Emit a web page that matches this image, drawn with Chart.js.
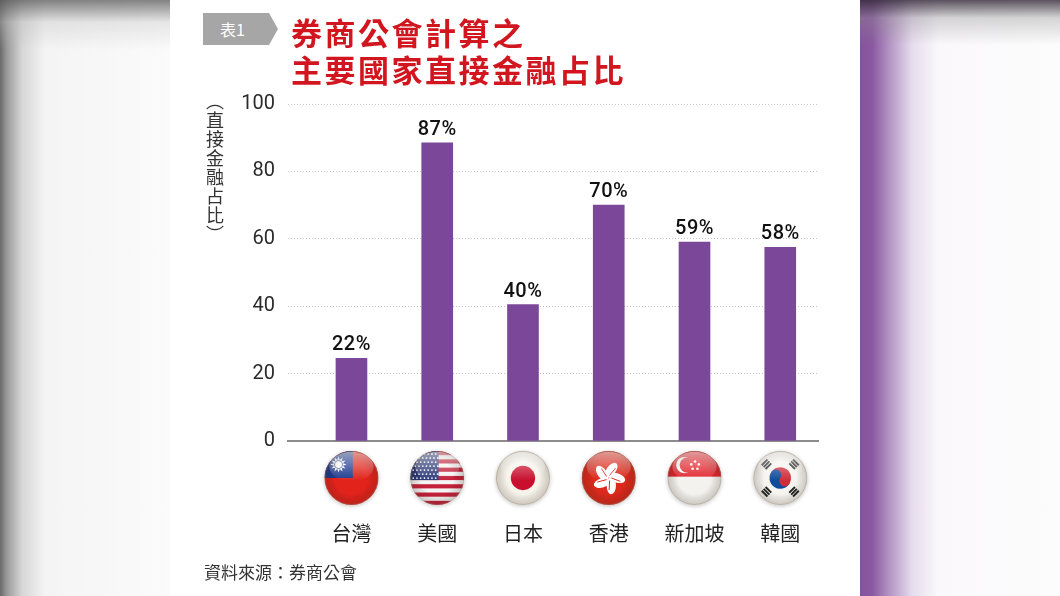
<!DOCTYPE html>
<html>
<head>
<meta charset="utf-8">
<script src="https://cdn.jsdelivr.net/npm/chart.js@4.4.0/dist/chart.umd.min.js"></script>
<style>
html, body { margin: 0; padding: 0; width: 1060px; height: 596px; overflow: hidden; background: #fff; }
#leftSide { position: absolute; left: 0; top: 0; width: 170px; height: 596px;
  background: linear-gradient(to bottom, rgba(90,90,90,.75) 0, rgba(190,190,190,.35) 22px, rgba(255,255,255,0) 50px),
              linear-gradient(to right, #6a6a6a 0, #9a9a9a 7px, #d6d6d6 22px, #f4f4f4 45px, #fbfbfb 170px); }
#rightSide { position: absolute; left: 860px; top: 0; width: 200px; height: 596px;
  background: linear-gradient(to bottom, rgba(50,40,55,.8) 0, rgba(140,140,140,.35) 18px, rgba(255,255,255,0) 45px),
              linear-gradient(to right, #86549c 0, #8a58a0 12px, #b496c4 30px, #e6dcee 52px, #faf8fb 78px, #fcfcfc 200px); }
#chart { position: absolute; left: 0; top: 0; }
.tag { position: absolute; left: 203px; top: 13px; width: 75px; height: 32px; background: #a6a6a6;
  clip-path: polygon(0 0, 66px 0, 75px 16px, 66px 32px, 0 32px);
  color: #fff; font: 16px "Noto Sans CJK TC", sans-serif; line-height: 32px; text-indent: 17px; }
.title { position: absolute; left: 291px; top: 13px; color: #d2161f; font: 700 31px "Noto Sans CJK TC", sans-serif;
  line-height: 37px; letter-spacing: 2.5px; }
.ytitle { position: absolute; left: 205px; top: 92px; writing-mode: vertical-rl; text-orientation: upright; color: #333;
  font: 18px "Noto Sans CJK TC", sans-serif; line-height: 20px; letter-spacing: 1px; }
.source { position: absolute; left: 204px; top: 560px; color: #333; font: 17px "Noto Sans CJK TC", sans-serif; line-height: 24px; }
</style>
</head>
<body>
<div id="leftSide"></div>
<div id="rightSide"></div>
<canvas id="chart" width="1060" height="596"></canvas>
<div class="tag">表1</div>
<div class="title">券商公會計算之<br>主要國家直接金融占比</div>
<div class="ytitle">︵直接金融占比︶</div>
<div class="source">資料來源：券商公會</div>

<script>
var categories = ["台灣", "美國", "日本", "香港", "新加坡", "韓國"];
var flagCodes = ["TW", "US", "JP", "HK", "SG", "KR"];
var barHeights = [24.5, 88.5, 40.5, 70, 59, 57.5];
var valueLabels = ["22%", "87%", "40%", "70%", "59%", "58%"];
var yTicks = [0, 20, 40, 60, 80, 100];

var barColor = "#7b4899";

function circlePath(ctx, x, y, r) {
    ctx.beginPath();
    ctx.arc(x, y, r, 0, Math.PI * 2);
}

function starPath(ctx, x, y, rOut, rIn, n, rot) {
    ctx.beginPath();
    for (var i = 0; i < n * 2; i++) {
        var rr = i % 2 === 0 ? rOut : rIn;
        var a = rot + i * Math.PI / n;
        var px = x + Math.cos(a) * rr, py = y + Math.sin(a) * rr;
        if (i === 0) ctx.moveTo(px, py); else ctx.lineTo(px, py);
    }
    ctx.closePath();
}

function drawFlag(ctx, code, cx, cy, r) {
    ctx.save();
    // soft shadow
    ctx.shadowColor = "rgba(0,0,0,0.25)";
    ctx.shadowBlur = 4;
    ctx.shadowOffsetY = 1;
    circlePath(ctx, cx, cy, r);
    ctx.fillStyle = "#eee";
    ctx.fill();
    ctx.restore();

    ctx.save();
    circlePath(ctx, cx, cy, r);
    ctx.clip();

    if (code === "TW") {
        ctx.fillStyle = "#e2231c";
        ctx.fillRect(cx - r, cy - r, 2 * r, 2 * r);
        ctx.fillStyle = "#1e3b8e";
        ctx.fillRect(cx - r, cy - r, r * 1.05, r * 1.0);
        var sx = cx - r * 0.48, sy = cy - r * 0.5;
        starPath(ctx, sx, sy, r * 0.3, r * 0.17, 12, -Math.PI / 2);
        ctx.fillStyle = "#fff";
        ctx.fill();
        circlePath(ctx, sx, sy, r * 0.16);
        ctx.fillStyle = "#1e3b8e";
        ctx.fill();
        circlePath(ctx, sx, sy, r * 0.13);
        ctx.fillStyle = "#fff";
        ctx.fill();
    } else if (code === "US") {
        ctx.fillStyle = "#f4f4f4";
        ctx.fillRect(cx - r, cy - r, 2 * r, 2 * r);
        var sh = 2 * r / 13;
        ctx.fillStyle = "#c4213a";
        for (var i = 0; i < 13; i += 2) {
            ctx.fillRect(cx - r, cy - r + i * sh, 2 * r, sh);
        }
        ctx.fillStyle = "#2c3b78";
        ctx.fillRect(cx - r, cy - r, r * 1.05, sh * 7);
        ctx.fillStyle = "#fff";
        for (var row = 0; row < 7; row++) {
            for (var col = 0; col < 7; col++) {
                circlePath(ctx, cx - r + 3 + col * (r * 1.05 - 4) / 6.5 + (row % 2) * 2, cy - r + 3 + row * (sh * 7 - 5) / 6, 0.9);
                ctx.fill();
            }
        }
    } else if (code === "JP") {
        ctx.fillStyle = "#f6f3ea";
        ctx.fillRect(cx - r, cy - r, 2 * r, 2 * r);
        circlePath(ctx, cx, cy, r * 0.45);
        ctx.fillStyle = "#c8102e";
        ctx.fill();
    } else if (code === "HK") {
        ctx.fillStyle = "#db2a1c";
        ctx.fillRect(cx - r, cy - r, 2 * r, 2 * r);
        ctx.fillStyle = "#fff";
        for (var k = 0; k < 5; k++) {
            var a = -Math.PI / 2 + k * 2 * Math.PI / 5 + 0.3;
            ctx.save();
            ctx.translate(cx + Math.cos(a) * r * 0.3, cy + Math.sin(a) * r * 0.3);
            ctx.rotate(a + 0.35);
            ctx.beginPath();
            ctx.ellipse(0, 0, r * 0.32, r * 0.17, 0, 0, Math.PI * 2);
            ctx.fill();
            ctx.restore();
        }
        ctx.strokeStyle = "#db2a1c";
        ctx.lineWidth = 1;
        for (var k2 = 0; k2 < 5; k2++) {
            var a2 = -Math.PI / 2 + k2 * 2 * Math.PI / 5 + 0.3;
            ctx.beginPath();
            ctx.moveTo(cx + Math.cos(a2) * r * 0.1, cy + Math.sin(a2) * r * 0.1);
            ctx.lineTo(cx + Math.cos(a2 + 0.3) * r * 0.45, cy + Math.sin(a2 + 0.3) * r * 0.45);
            ctx.stroke();
        }
    } else if (code === "SG") {
        ctx.fillStyle = "#f4f2ee";
        ctx.fillRect(cx - r, cy - r, 2 * r, 2 * r);
        ctx.fillStyle = "#e0262d";
        ctx.fillRect(cx - r, cy - r, 2 * r, r * 0.95);
        circlePath(ctx, cx - r * 0.38, cy - r * 0.48, r * 0.3);
        ctx.fillStyle = "#fff";
        ctx.fill();
        circlePath(ctx, cx - r * 0.27, cy - r * 0.48, r * 0.28);
        ctx.fillStyle = "#e0262d";
        ctx.fill();
        ctx.fillStyle = "#fff";
        var pts = [[0.0, -0.68], [0.14, -0.56], [0.09, -0.38], [-0.09, -0.38], [-0.14, -0.56]];
        for (var p = 0; p < pts.length; p++) {
            circlePath(ctx, cx + r * 0.02 + pts[p][0] * r, cy + pts[p][1] * r * 0.9, 1.3);
            ctx.fill();
        }
    } else if (code === "KR") {
        ctx.fillStyle = "#f6f4ef";
        ctx.fillRect(cx - r, cy - r, 2 * r, 2 * r);
        var R = r * 0.4;
        ctx.save();
        ctx.translate(cx, cy);
        ctx.rotate(0.59);
        ctx.beginPath();
        ctx.arc(0, 0, R, Math.PI, 0);
        ctx.fillStyle = "#cd2e3a";
        ctx.fill();
        ctx.beginPath();
        ctx.arc(0, 0, R, 0, Math.PI);
        ctx.fillStyle = "#0f4c9c";
        ctx.fill();
        circlePath(ctx, -R / 2, 0, R / 2);
        ctx.fillStyle = "#0f4c9c";
        ctx.fill();
        circlePath(ctx, R / 2, 0, R / 2);
        ctx.fillStyle = "#cd2e3a";
        ctx.fill();
        ctx.restore();
        ctx.fillStyle = "#222";
        for (var q = 0; q < 4; q++) {
            var ang = Math.PI / 4 + q * Math.PI / 2;
            ctx.save();
            ctx.translate(cx + Math.cos(ang) * r * 0.72, cy + Math.sin(ang) * r * 0.72);
            ctx.rotate(ang);
            for (var b = -1; b <= 1; b++) {
                ctx.fillRect(b * r * 0.1 - r * 0.035, -r * 0.15, r * 0.07, r * 0.3);
            }
            ctx.restore();
        }
    }

    // glossy shine
    var edge = ctx.createRadialGradient(cx, cy, r * 0.6, cx, cy, r);
    edge.addColorStop(0, "rgba(0,0,0,0)");
    edge.addColorStop(1, "rgba(60,40,20,0.22)");
    ctx.fillStyle = edge;
    ctx.fillRect(cx - r, cy - r, 2 * r, 2 * r);
    var gloss = ctx.createLinearGradient(0, cy - r, 0, cy + r * 0.1);
    gloss.addColorStop(0, "rgba(255,255,255,0.55)");
    gloss.addColorStop(1, "rgba(255,255,255,0)");
    ctx.beginPath();
    ctx.ellipse(cx, cy - r * 0.42, r * 0.82, r * 0.55, 0, 0, Math.PI * 2);
    ctx.fillStyle = gloss;
    ctx.fill();
    ctx.restore();

    circlePath(ctx, cx, cy, r - 0.5);
    ctx.strokeStyle = "rgba(150,140,120,0.35)";
    ctx.lineWidth = 1;
    ctx.stroke();
}

var decorPlugin = {
    id: "decor",
    afterDatasetsDraw: function (chart) {
        var ctx = chart.ctx;
        var meta = chart.getDatasetMeta(0);
        ctx.save();
        ctx.fillStyle = "#111";
        ctx.font = "500 20px Roboto, sans-serif";
        ctx.letterSpacing = "0.5px";
        ctx.textAlign = "center";
        ctx.textBaseline = "bottom";
        meta.data.forEach(function (bar, i) {
            ctx.fillText(valueLabels[i], bar.x, bar.y - 3);
        });
        ctx.restore();
    },
    afterDraw: function (chart) {
        var ctx = chart.ctx;
        var xScale = chart.scales.x;
        var bottom = chart.chartArea.bottom;
        ctx.save();
        categories.forEach(function (name, i) {
            var x = xScale.getPixelForValue(i);
            drawFlag(ctx, flagCodes[i], x, bottom + 37, 27);
            ctx.fillStyle = "#222";
            ctx.font = '20px "Noto Sans CJK TC", sans-serif';
            ctx.textAlign = "center";
            ctx.textBaseline = "middle";
            ctx.fillText(name, x, bottom + 92);
        });
        ctx.restore();
    }
};

function initBarChart() {
    var ctx = document.getElementById("chart").getContext("2d");

    var points = barHeights.map(function (v, i) {
        return { x: i, y: v };
    });

    var data = {
        datasets: [{
            data: points,
            backgroundColor: barColor,
            borderWidth: 0,
            barThickness: 31
        }]
    };

    var options = {
        responsive: false,
        animation: false,
        layout: { padding: { top: 104, right: 242, left: 0, bottom: 0 } },
        plugins: {
            legend: { display: false },
            tooltip: { enabled: false }
        },
        scales: {
            x: {
                type: "linear",
                offset: false,
                min: -0.74,
                max: 5.44,
                grid: { display: false },
                ticks: { display: false },
                border: { display: true, color: "#8c8c8c", width: 2 },
                afterFit: function (scale) { scale.height = 155; }
            },
            y: {
                min: yTicks[0],
                max: yTicks[yTicks.length - 1],
                afterBuildTicks: function (scale) {
                    scale.ticks = yTicks.map(function (v) { return { value: v }; });
                },
                grid: {
                    drawTicks: false,
                    color: function (c) { return c.tick && c.tick.value === 0 ? "rgba(0,0,0,0)" : "#c4c4c4"; },
                    lineWidth: 1
                },
                border: { display: false, dash: [1, 2] },
                ticks: {
                    padding: 13,
                    color: "#2b2b2b",
                    font: { family: "Roboto", size: 20, weight: "400" }
                },
                afterFit: function (scale) { scale.width = 288; }
            }
        }
    };

    new Chart(ctx, {
        type: "bar",
        data: data,
        options: options,
        plugins: [decorPlugin]
    });
}

initBarChart();
</script>
</body>
</html>
